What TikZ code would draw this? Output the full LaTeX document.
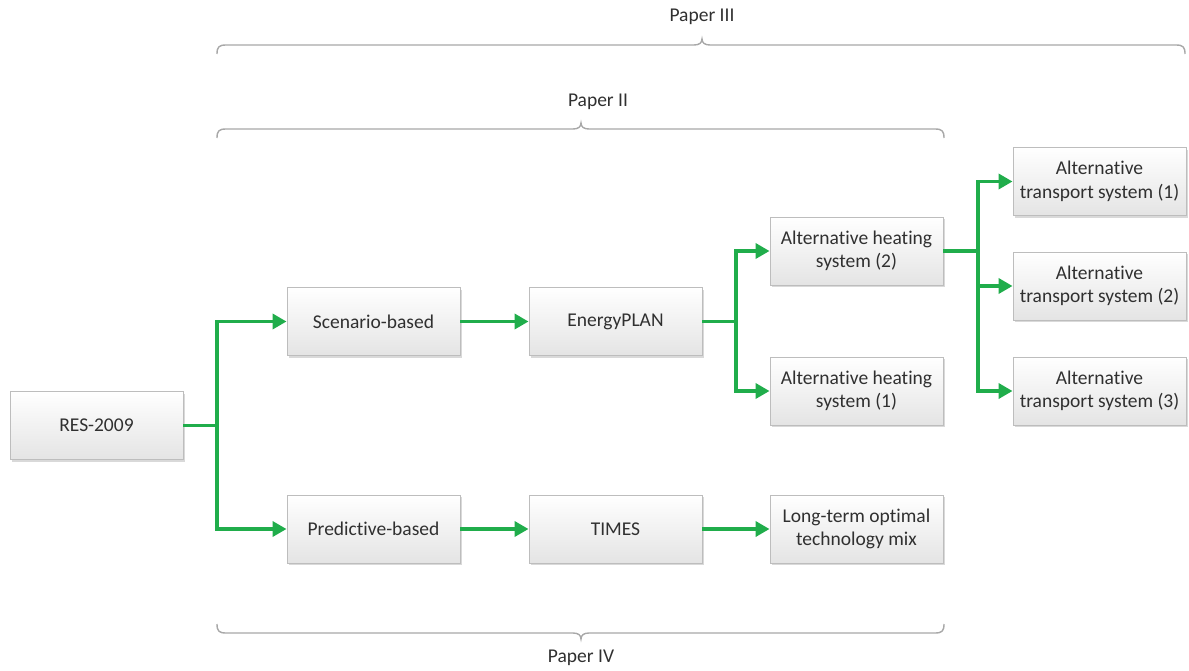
\documentclass[tikz,border=0pt]{standalone}
\usepackage{fontspec}
\setmainfont{Carlito}[RawFeature={-liga;-clig;-calt;-dlig;-rlig}]
\usetikzlibrary{arrows.meta,shadows}
\definecolor{arrgreen}{HTML}{20AD4B}
\definecolor{boxline}{HTML}{BDBDBD}
\definecolor{boxbot}{HTML}{E4E4E4}
\definecolor{txt}{HTML}{303030}
\definecolor{bracecol}{HTML}{A8A8A8}
\tikzset{
  stagebox/.style={rectangle, draw=boxline, line width=0.9pt, top color=white, bottom color=boxbot,
    minimum width=173pt, minimum height=68pt, inner sep=2pt, align=center, text=txt,
    font=\fontsize{19.5}{23.5}\selectfont,
    drop shadow={shadow xshift=2pt, shadow yshift=-2pt, opacity=0.25, fill=black!60}},
  flow/.style={draw=arrgreen, line width=3.5pt, -{Triangle[length=14pt,width=15pt]}},
  flowline/.style={draw=arrgreen, line width=3.5pt},
  bracepath/.style={draw=bracecol, line width=1.4pt},
  bracelabel/.style={text=txt, font=\fontsize{19.5}{23.5}\selectfont, inner sep=0pt}
}
% #1 left x, #2 right x, #3 tip x, #4 line y, #5 direction (1 = tip up, -1 = tip down)
\newcommand{\paperbrace}[5]{%
  \draw[bracepath] (#1,#4+9*#5) .. controls (#1,#4+2*#5) and (#1+2,#4) .. (#1+9,#4)
    -- (#3-8,#4) .. controls (#3-3,#4) and (#3,#4-2*#5) .. (#3,#4-6*#5)
    .. controls (#3,#4-2*#5) and (#3+3,#4) .. (#3+8,#4)
    -- (#2-9,#4) .. controls (#2-2,#4) and (#2,#4+2*#5) .. (#2,#4+9*#5);}
\begin{document}
\begin{tikzpicture}[x=1pt,y=-1pt]
\useasboundingbox (0,0) rectangle (1189,670);

% boxes
\node[stagebox] (res)   at (96.5,425.5)  {RES-2009};
\node[stagebox] (scen)  at (373.5,321.5) {Scenario-based};
\node[stagebox] (eplan) at (615.5,321.5) {EnergyPLAN};
\node[stagebox] (heat2) at (856.5,251)   {Alternative heating\\system (2)};
\node[stagebox] (heat1) at (856.5,391)   {Alternative heating\\system (1)};
\node[stagebox] (tr1)   at (1099.5,181.5){Alternative\\transport system (1)};
\node[stagebox] (tr2)   at (1099.5,286)  {Alternative\\transport system (2)};
\node[stagebox] (tr3)   at (1099.5,391)  {Alternative\\transport system (3)};
\node[stagebox] (pred)  at (373.5,529)   {Predictive-based};
\node[stagebox] (times) at (615.5,529)   {TIMES};
\node[stagebox] (lt)    at (856.5,529)   {Long-term optimal\\technology mix};

% junctions
\coordinate (j1) at (217,425.5);
\coordinate (j2) at (736,321.5);
\coordinate (j3) at (978,251);

% connectors
\draw[flowline] (res.east) -- (j1);
\draw[flow] (j1) |- (scen.west);
\draw[flow] (j1) |- (pred.west);
\draw[flow] (scen.east) -- (eplan.west);
\draw[flowline] (eplan.east) -- (j2);
\draw[flow] (j2) |- (heat2.west);
\draw[flow] (j2) |- (heat1.west);
\draw[flowline] (heat2.east) -- (j3);
\draw[flow] (j3) |- (tr1.west);
\draw[flow] (j3) |- (tr2.west);
\draw[flow] (j3) |- (tr3.west);
\draw[flow] (pred.east) -- (times.west);
\draw[flow] (times.east) -- (lt.west);

% braces
\paperbrace{217}{1185}{702}{45}{1}
\node[bracelabel] (p3) at (702,17) {Paper III};
\paperbrace{217}{944}{581}{129}{1}
\node[bracelabel] (p2) at (598,102) {Paper II};
\paperbrace{217}{944}{581}{633}{-1}
\node[bracelabel] (p4) at (581,658) {Paper IV};
\end{tikzpicture}
\end{document}
